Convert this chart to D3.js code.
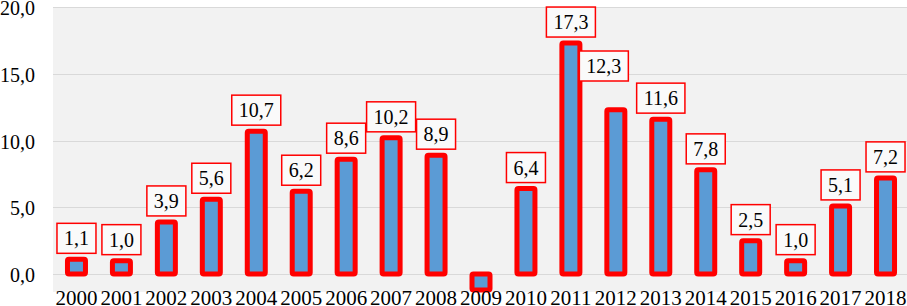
<!DOCTYPE html>
<html><head><meta charset="utf-8">
<script src="https://cdn.jsdelivr.net/npm/d3@7"></script>
<style>body{margin:0;background:#fff}svg{display:block}</style>
</head><body>
<svg id="c" width="907" height="306"></svg>
<script>
const years = ["2000","2001","2002","2003","2004","2005","2006","2007","2008","2009","2010","2011","2012","2013","2014","2015","2016","2017","2018"];
const values = [1.1,1.0,3.9,5.6,10.7,6.2,8.6,10.2,8.9,-1.2,6.4,17.3,12.3,11.6,7.8,2.5,1.0,5.1,7.2];
const yTicks = [0,5,10,15,20];

(function () {
const svg = d3.select("#c");
const W = 907, H = 306;
const mLeft = 54, mRight = 908, mTop = 7;
const x = d3.scaleBand().domain(years).range([mLeft, mRight]).padding(0);
const y = d3.scaleLinear().domain([0, 20]).range([274, mTop]);
const plotBottom = y(-1.35);
const fmt = v => v.toFixed(1).replace(".", ",");

svg.append("rect").attr("x", mLeft - 1).attr("y", mTop).attr("width", W - mLeft + 1).attr("height", plotBottom - mTop).attr("fill", "#f2f2f2");

svg.append("g").selectAll("line").data(yTicks).join("line")
  .attr("x1", mLeft - 1).attr("x2", W).attr("y1", d => Math.round(y(d)) + 0.5).attr("y2", d => Math.round(y(d)) + 0.5)
  .attr("stroke", "#d9d9d9").attr("stroke-width", 1);

svg.append("g").selectAll("text").data(yTicks).join("text")
  .attr("x", 35).attr("y", d => y(d) + 8).attr("text-anchor", "end")
  .attr("font-family", "Liberation Serif, Times New Roman, serif").attr("font-size", 20).attr("fill", "#000")
  .text(d => fmt(d));

const bw = 18;
svg.append("g").selectAll("rect").data(years).join("rect")
  .attr("x", d => x(d) + x.bandwidth() / 2 - bw / 2)
  .attr("y", (d, i) => y(Math.max(0, values[i])))
  .attr("width", bw)
  .attr("height", (d, i) => Math.abs(y(values[i]) - y(0)))
  .attr("fill", "#5b9bd5").attr("stroke", "#ff0000").attr("stroke-width", 5)
  .attr("stroke-linejoin", "round").attr("rx", 1.5);

svg.append("g").selectAll("text").data(years).join("text")
  .attr("x", d => x(d) + x.bandwidth() / 2).attr("y", 305).attr("text-anchor", "middle")
  .attr("font-family", "Liberation Serif, Times New Roman, serif").attr("font-size", 21).attr("fill", "#000")
  .text(d => d);

// data labels (2009 label hidden; 2012 label moved to avoid overlap)
const lg = svg.append("g");
years.forEach((yr, i) => {
  const v = values[i];
  if (v < 0) return;
  const txt = fmt(v);
  let cx = x(yr) + x.bandwidth() / 2;
  let bottom = y(v) - 6;
  if (yr === "2012") { cx -= 12; bottom = 81; }
  const g = lg.append("g");
  const t = g.append("text").attr("x", cx).attr("y", bottom - 8).attr("text-anchor", "middle")
    .attr("font-family", "Liberation Serif, Times New Roman, serif").attr("font-size", 20).attr("fill", "#000").text(txt);
  const tw = t.node().getComputedTextLength();
  const bwid = tw + 14;
  g.insert("rect", "text").attr("x", cx - bwid / 2).attr("y", bottom - 30).attr("width", bwid).attr("height", 30)
    .attr("fill", "#fafafa").attr("stroke", "#ff0000").attr("stroke-width", 1.5);
});
})();
</script>
</body></html>
